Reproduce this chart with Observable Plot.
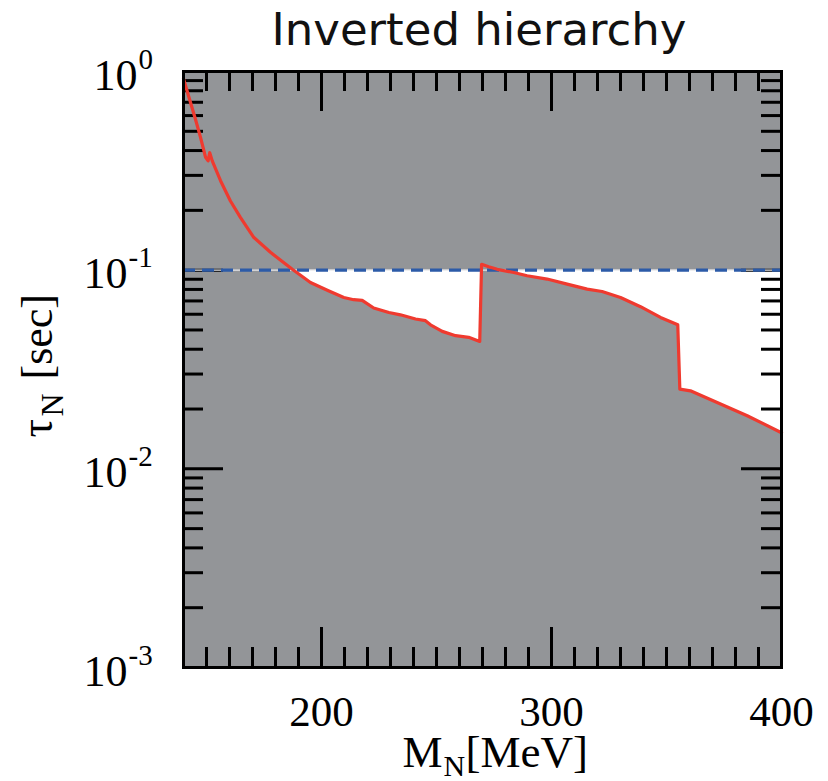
<!DOCTYPE html>
<html>
<head>
<meta charset="utf-8">
<script src="https://cdn.jsdelivr.net/npm/d3@7"></script>
<script src="https://cdn.jsdelivr.net/npm/@observablehq/plot@0.6"></script>
<style>
  body { margin: 0; background: #fff; }
  #title {
    position: relative; z-index: 2;
    width: 698px; padding-left: 130px; height: 45px; line-height: 60px;
    text-align: center; font-family: "DejaVu Sans", sans-serif; font-size: 45px;
    color: #111; white-space: nowrap; overflow: visible;
  }
  #chart svg { display: block; }
</style>
</head>
<body>
<div id="title"></div>
<div id="chart"></div>
<script>
// ---- Data ----
const titleText = "Inverted hierarchy";
const massMeV = [140, 145.2, 147.4, 149.6, 150.7, 151.4, 152.5, 156.1, 160.4, 164.8, 170.6, 177.8, 187.3, 195.2, 203,
  209.7, 214, 217.7, 222.7, 229.3, 234.3, 240.9, 245.2, 247.4, 252.5, 258.3, 264, 268.8,
  269.6, 272.7, 276.4, 283.6, 289.4, 298.1, 306.8, 315.5, 322, 330, 338.7, 347.4, 354.9,
  355.8, 360.4, 373.5, 385.1, 400];
const tauSec = [0.92, 0.575, 0.466, 0.37, 0.355, 0.39, 0.355, 0.282, 0.223, 0.184, 0.146, 0.123, 0.101, 0.0867, 0.0788,
  0.0729, 0.071, 0.0705, 0.0645, 0.0612, 0.0596, 0.0568, 0.0557, 0.0531, 0.0492, 0.0468, 0.0459, 0.0438,
  0.107, 0.104, 0.101, 0.0973, 0.0937, 0.0902, 0.0851, 0.0803, 0.0781, 0.0729, 0.0655, 0.0578, 0.0531,
  0.0252, 0.0247, 0.0212, 0.0185, 0.0152];
const tauLimit = 0.1;

const xDomain = [140, 400];
const yDomain = [0.001, 1];
const xTickValues = [200, 300, 400];
const xMinorTicks = [150, 160, 170, 180, 190, 210, 220, 230, 240, 250, 260, 270, 280, 290,
  310, 320, 330, 340, 350, 360, 370, 380, 390];
const yTickValues = [1, 0.1, 0.01, 0.001];
const yTickExps = ["0", "-1", "-2", "-3"];
const yMajorTicks = [0.1, 0.01];
const yMinorMantissas = [2, 3, 4, 5, 6, 7, 8, 9];
const yMinorDecades = [0.001, 0.01, 0.1];
const xLabelParts = ["M", "N", "[MeV]"];
const yLabelParts = ["τ", "N", "[sec]"];

// ---- Tables built from the arrays ----
const rows = massMeV.map((m, i) => ({m, tau: tauSec[i]}));
const yLabels = yTickValues.map((v, i) => ({v, e: yTickExps[i]}));
const yMinorTicks = yMinorDecades.flatMap(d => yMinorMantissas.map(k => k * d));

// ---- Layout / styles ----
const W = 828, H = 736;
const mT = 26, mB = 114, mL = 183, mR = 47;
const PH = H - mT - mB, PW = W - mL - mR;
const gray = "#939598", red = "#ef3a2f", blue = "#2c5ba8";
const serif = "Liberation Serif, Times New Roman, serif";
const tw = 3;

document.getElementById("title").textContent = titleText;

const chart = Plot.plot({
  width: W, height: H,
  marginTop: mT, marginBottom: mB, marginLeft: mL, marginRight: mR,
  style: {background: "transparent", overflow: "visible"},
  x: {type: "linear", domain: xDomain, axis: null},
  y: {type: "log", domain: yDomain, axis: null},
  marks: [
    Plot.frame({fill: gray}),
    Plot.areaY(rows, {x: "m", y1: d => Math.min(d.tau, tauLimit), y2: () => tauLimit, fill: "white"}),
    // ticks (inside, mirrored)
    Plot.ruleX(xTickValues.slice(0, 2), {insetTop: PH - 40, stroke: "black", strokeWidth: tw}),
    Plot.ruleX(xTickValues.slice(0, 2), {insetBottom: PH - 40, stroke: "black", strokeWidth: tw}),
    Plot.ruleX(xMinorTicks, {insetTop: PH - 20, stroke: "black", strokeWidth: tw}),
    Plot.ruleX(xMinorTicks, {insetBottom: PH - 20, stroke: "black", strokeWidth: tw}),
    Plot.ruleY(yMajorTicks, {insetRight: PW - 40, stroke: "black", strokeWidth: tw}),
    Plot.ruleY(yMajorTicks, {insetLeft: PW - 40, stroke: "black", strokeWidth: tw}),
    Plot.ruleY(yMinorTicks, {insetRight: PW - 20, stroke: "black", strokeWidth: tw}),
    Plot.ruleY(yMinorTicks, {insetLeft: PW - 20, stroke: "black", strokeWidth: tw}),
    // limit line
    Plot.ruleY([tauLimit], {stroke: "#e8e8ea", strokeWidth: 1.2}),
    Plot.ruleY([tauLimit], {stroke: blue, strokeWidth: 3.4, strokeDasharray: "12,7"}),
    // curve
    Plot.line(rows, {x: "m", y: "tau", stroke: red, strokeWidth: 3.2, strokeLinejoin: "round"}),
    Plot.frame({stroke: "black", strokeWidth: 3}),
    // x tick labels
    Plot.text(xTickValues, {x: d => d, text: d => String(d), frameAnchor: "bottom", lineAnchor: "bottom",
      dy: 58, fontSize: 43, fontFamily: serif, fill: "black"}),
    // y tick labels: base and exponent
    Plot.text(yLabels.filter(d => d.e !== "0"), {y: "v", text: () => "10", frameAnchor: "left", textAnchor: "end",
      lineAnchor: "bottom", dx: -56, dy: 18, fontSize: 44, fontFamily: serif, fill: "black"}),
    Plot.text(yLabels.filter(d => d.e === "0"), {y: "v", text: () => "10", frameAnchor: "left", textAnchor: "end",
      lineAnchor: "bottom", dx: -46, dy: 18, fontSize: 44, fontFamily: serif, fill: "black"}),
    Plot.text(yLabels.filter(d => d.e !== "0"), {y: "v", text: "e", frameAnchor: "left", textAnchor: "start",
      lineAnchor: "bottom", dx: -55, dy: -3, fontSize: 29, fontFamily: serif, fill: "black"}),
    Plot.text(yLabels.filter(d => d.e === "0"), {y: "v", text: "e", frameAnchor: "left", textAnchor: "start",
      lineAnchor: "bottom", dx: -45, dy: -3, fontSize: 29, fontFamily: serif, fill: "black"}),
    // x axis label
    Plot.text([xLabelParts[0]], {text: d => d, frameAnchor: "bottom", textAnchor: "start", lineAnchor: "bottom",
      dx: -80, dy: 99, fontSize: 45, fontFamily: serif, fill: "black"}),
    Plot.text([xLabelParts[1]], {text: d => d, frameAnchor: "bottom", textAnchor: "start", lineAnchor: "bottom",
      dx: -39, dy: 108, fontSize: 30, fontFamily: serif, fill: "black"}),
    Plot.text([xLabelParts[2]], {text: d => d, frameAnchor: "bottom", textAnchor: "start", lineAnchor: "bottom",
      dx: -17, dy: 99, fontSize: 45, fontFamily: serif, fill: "black"}),
    // y axis label (rotated)
    Plot.text([yLabelParts[0]], {text: d => d, frameAnchor: "left", textAnchor: "start", lineAnchor: "bottom",
      rotate: -90, dx: -132, dy: 68, fontSize: 46, fontFamily: serif, fill: "black"}),
    Plot.text([yLabelParts[1]], {text: d => d, frameAnchor: "left", textAnchor: "start", lineAnchor: "bottom",
      rotate: -90, dx: -121, dy: 47, fontSize: 32, fontFamily: serif, fill: "black"}),
    Plot.text([yLabelParts[2]], {text: d => d, frameAnchor: "left", textAnchor: "start", lineAnchor: "bottom",
      rotate: -90, dx: -132, dy: 10, fontSize: 44, fontFamily: serif, fill: "black"})
  ]
});
document.getElementById("chart").appendChild(chart);
</script>
</body>
</html>
